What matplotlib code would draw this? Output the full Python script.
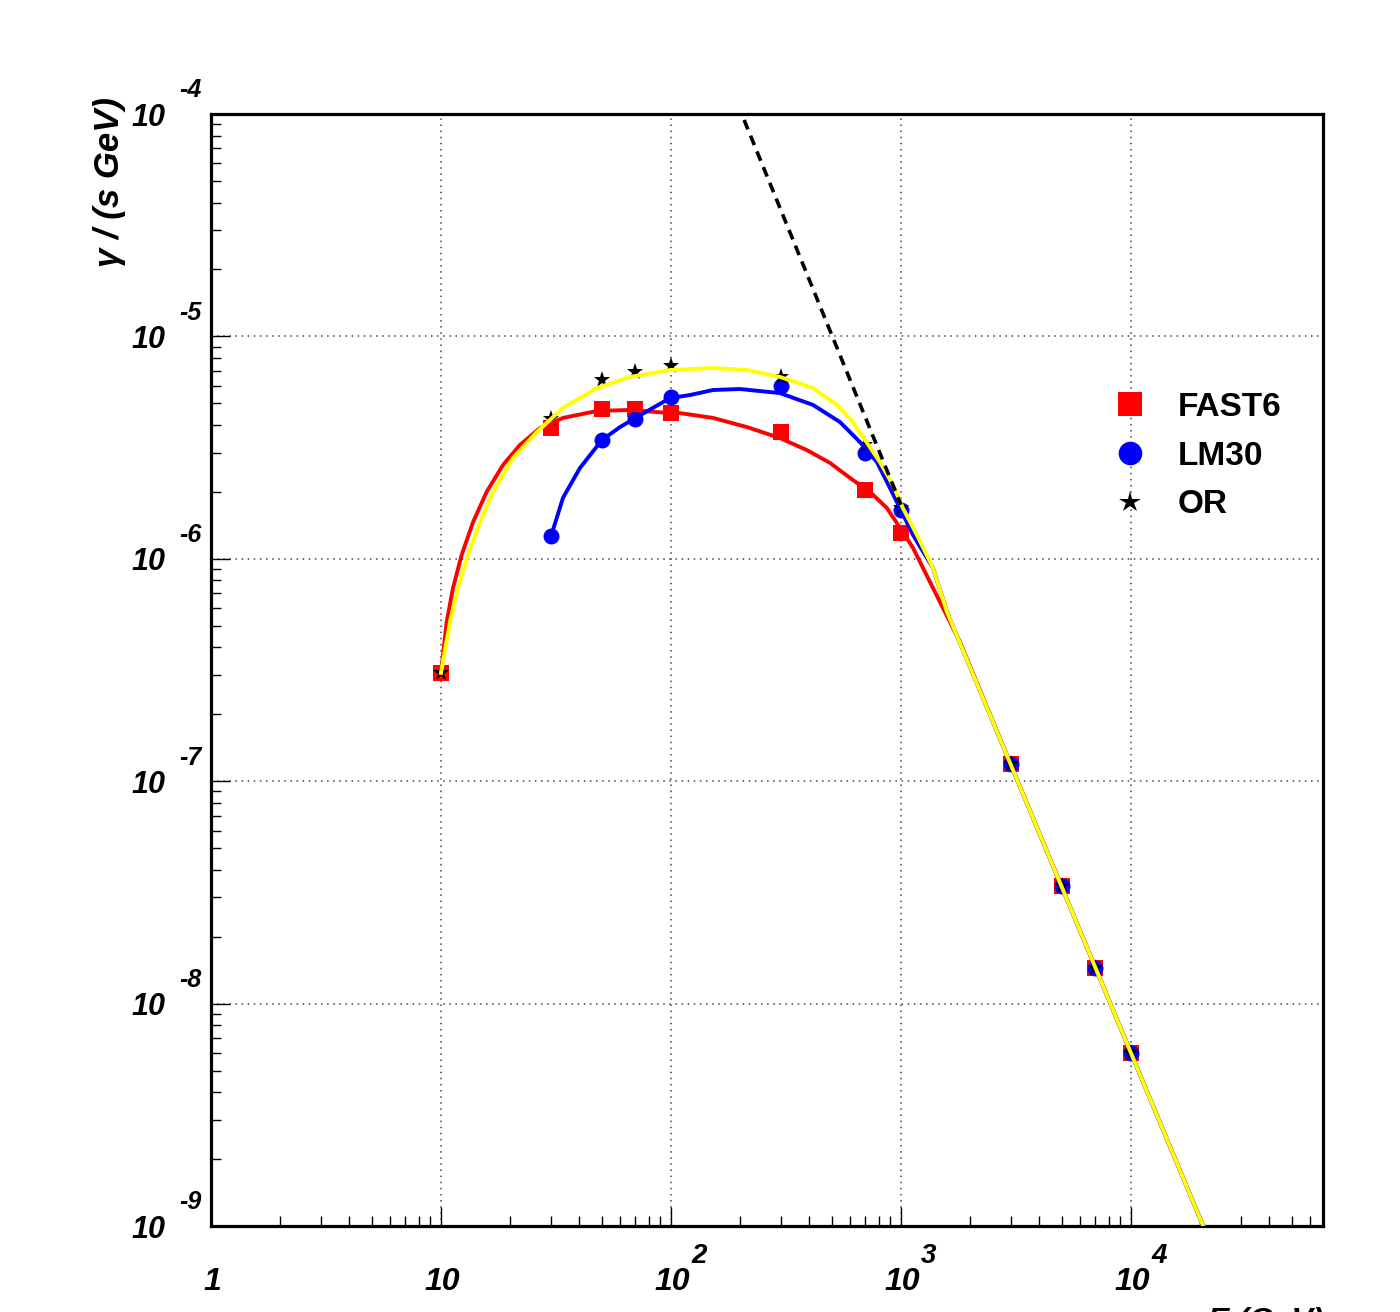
import matplotlib
matplotlib.use("Agg")
import matplotlib.pyplot as plt
from matplotlib.lines import Line2D

# measured points (E in GeV, rate in photons / (s GeV))
energy_fast6 = [10, 30, 50, 70, 100, 300, 700, 1000, 3000, 5000, 7000, 10000]
rate_fast6 = [3.07e-7, 3.87e-6, 4.72e-6, 4.72e-6, 4.53e-6, 3.72e-6, 2.04e-6, 1.31e-6,
              1.19e-7, 3.38e-8, 1.44e-8, 6.0e-9]

energy_lm30 = [30, 50, 70, 100, 300, 700, 1000, 3000, 5000, 7000, 10000]
rate_lm30 = [1.27e-6, 3.42e-6, 4.26e-6, 5.35e-6, 5.98e-6, 2.99e-6, 1.66e-6,
             1.19e-7, 3.38e-8, 1.44e-8, 6.0e-9]

energy_or = [10, 30, 50, 70, 100, 300, 700, 1000, 3000, 5000, 7000, 10000]
rate_or = [3.07e-7, 4.26e-6, 6.37e-6, 6.92e-6, 7.36e-6, 6.56e-6, 3.25e-6, 1.70e-6,
           1.19e-7, 3.38e-8, 1.44e-8, 6.0e-9]

# smooth fitted curves
curve_e_fast6 = [10, 10.59, 11.28, 12.30, 13.78, 15.80, 18.60, 22.05, 26.94, 33.92, 47.7,
                 66.3, 99.0, 109.4, 152.3, 214, 297.8, 390, 491, 618, 733, 869, 990,
                 1128, 1337, 1523, 1805, 3000, 10000, 25000]
curve_r_fast6 = [3.07e-7, 5.21e-7, 7.39e-7, 1.04e-6, 1.46e-6, 2.00e-6, 2.64e-6, 3.25e-6,
                 3.87e-6, 4.30e-6, 4.62e-6, 4.67e-6, 4.52e-6, 4.52e-6, 4.30e-6, 3.91e-6,
                 3.49e-6, 3.08e-6, 2.70e-6, 2.26e-6, 2.00e-6, 1.69e-6, 1.38e-6, 1.12e-6,
                 7.87e-7, 6.01e-7, 4.23e-7, 1.19e-7, 6.0e-9, 6.2e-10]

curve_e_lm30 = [30, 33.92, 40.2, 50.1, 60.0, 71.2, 99.0, 121, 152.3, 199.5, 297.8, 414.4,
                543, 663, 786.6, 896, 990, 1128, 1378, 1585, 3000, 10000, 25000]
curve_r_lm30 = [1.25e-6, 1.88e-6, 2.56e-6, 3.42e-6, 3.91e-6, 4.34e-6, 5.28e-6, 5.45e-6,
                5.74e-6, 5.80e-6, 5.56e-6, 4.92e-6, 4.12e-6, 3.35e-6, 2.72e-6, 2.08e-6,
                1.69e-6, 1.28e-6, 9.09e-7, 5.77e-7, 1.19e-7, 6.0e-9, 6.2e-10]

curve_e_or = [10, 10.94, 11.86, 13.10, 14.77, 16.83, 20.56, 26.15, 33.92, 47.7, 66.3, 99.0,
              152.3, 214, 297.8, 414.4, 526.8, 618, 711.6, 810.5, 923, 1020, 1174, 1378,
              1585, 3000, 10000, 25000]
curve_r_or = [3.07e-7, 5.20e-7, 7.39e-7, 1.04e-6, 1.46e-6, 2.00e-6, 2.84e-6, 3.72e-6,
              4.77e-6, 5.86e-6, 6.57e-6, 7.06e-6, 7.21e-6, 7.06e-6, 6.57e-6, 5.86e-6,
              4.92e-6, 4.12e-6, 3.32e-6, 2.72e-6, 2.15e-6, 1.69e-6, 1.28e-6, 9.09e-7,
              5.77e-7, 1.19e-7, 6.0e-9, 6.2e-10]

# power-law extrapolation (dashed)
powerlaw_e = [208, 1000]
powerlaw_r = [9.4e-5, 1.75e-6]

xtick_exps = [0, 1, 2, 3, 4]
ytick_exps = [-4, -5, -6, -7, -8, -9]

FONT = "Liberation Sans"

fig = plt.figure(figsize=(14, 13.12), dpi=100)
ax = fig.add_axes([211 / 1400, 1 - 1226 / 1312, 1112 / 1400, 1112 / 1312])
ax.set_xscale("log")
ax.set_yscale("log")
ax.set_xlim(1, 6.84e4)
ax.set_ylim(1e-9, 1e-4)

# markers first, curves on top
ax.plot(energy_fast6, rate_fast6, ls="none", marker="s", ms=11.5, color="#ff0000",
        markeredgewidth=0, zorder=3)
ax.plot(energy_lm30, rate_lm30, ls="none", marker="o", ms=11.5, color="#0000ff",
        markeredgewidth=0, zorder=3)
ax.plot(energy_or, rate_or, ls="none", marker="*", ms=12.5, color="black",
        markeredgewidth=0, zorder=3)

ax.plot(curve_e_fast6, curve_r_fast6, color="#ff0000", lw=2.8, zorder=4)
ax.plot(curve_e_lm30, curve_r_lm30, color="#0000ff", lw=2.8, zorder=4)
ax.plot(curve_e_or, curve_r_or, color="#ffff00", lw=2.8, zorder=5)
ax.plot(powerlaw_e, powerlaw_r, color="black", lw=2.6, ls=(0, (2.8, 1.9)), zorder=6)

# frame, ticks, grid
for side in ax.spines:
    ax.spines[side].set_linewidth(2.3)
ax.tick_params(which="both", direction="in", top=False, right=False,
               labelbottom=False, labelleft=False, width=1)
ax.tick_params(which="major", length=14)
ax.tick_params(which="minor", length=7)
ax.xaxis.set_minor_locator(matplotlib.ticker.LogLocator(base=10, subs=range(2, 10), numticks=20))
ax.yaxis.set_minor_locator(matplotlib.ticker.LogLocator(base=10, subs=range(2, 10), numticks=20))
ax.grid(which="major", color="#444444", lw=1.1, ls=(0, (1, 3)))

lab = dict(family=FONT, weight="bold", style="italic")

# y tick labels, ROOT style
ytr = ax.get_yaxis_transform()
for e in ytick_exps:
    ax.annotate("10", xy=(0, 10.0 ** e), xycoords=ytr, xytext=(-33, -8.3),
                textcoords="offset points", ha="right", va="baseline", fontsize=22, **lab)
    ax.annotate(str(e), xy=(0, 10.0 ** e), xycoords=ytr, xytext=(-22.5, 12.0),
                textcoords="offset points", ha="left", va="baseline", fontsize=18, **lab)

# x tick labels
xtr = ax.get_xaxis_transform()
for e in xtick_exps:
    base = "1" if e == 0 else "10"
    ax.annotate(base, xy=(10.0 ** e, 0), xycoords=xtr, xytext=(1, -46),
                textcoords="offset points", ha="center", va="baseline", fontsize=23, **lab)
    if e >= 2:
        ax.annotate(str(e), xy=(10.0 ** e, 0), xycoords=xtr, xytext=(14.5, -26.5),
                    textcoords="offset points", ha="left", va="baseline", fontsize=20, **lab)

fig.text(1208 / 1400, 1 - 1307 / 1312, "E (GeV)", ha="left", va="top", fontsize=23, **lab)
fig.text(110 / 1400, 1 - 97 / 1312, "\u03b3 / (s GeV)", rotation=90, ha="center", va="top",
         fontsize=25, **lab)

handles = [
    Line2D([], [], ls="none", marker="s", ms=17, color="#ff0000", markeredgewidth=0),
    Line2D([], [], ls="none", marker="o", ms=17, color="#0000ff", markeredgewidth=0),
    Line2D([], [], ls="none", marker="*", ms=16, color="black", markeredgewidth=0),
]
ax.legend(handles, ["FAST6", "LM30", "OR"], loc="upper left",
          bbox_to_anchor=(1113.3 / 1400, 1 - 392 / 1312), bbox_transform=fig.transFigure,
          frameon=False, borderpad=0, borderaxespad=0, handlelength=1.0,
          handletextpad=0.94, labelspacing=0.53,
          prop=dict(family=FONT, weight="bold", size=24))

fig.savefig("out.png", dpi=100)
